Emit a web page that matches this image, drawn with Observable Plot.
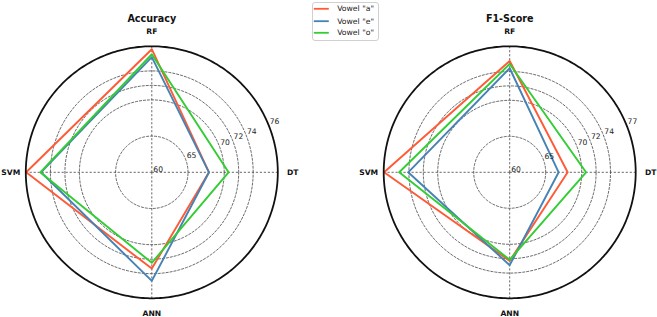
<!DOCTYPE html>
<html><head><meta charset="utf-8">
<script src="https://cdn.jsdelivr.net/npm/d3@7"></script>
<script src="https://cdn.jsdelivr.net/npm/@observablehq/plot@0.6"></script>
<style>
body{margin:0;background:#fff;}
#wrap{position:relative;width:657px;height:317px;overflow:hidden;font-family:"DejaVu Sans",sans-serif;}
#left,#right{position:absolute;top:0;}
#left{left:0px;} #right{left:330px;}
#legend{position:absolute;left:311.5px;top:1.5px;}
svg{overflow:visible;}
</style></head><body>
<div id="wrap"><div id="left"></div><div id="right"></div><div id="legend"></div></div>
<script>
// ---- data ----
const categories = ["DT", "RF", "SVM", "ANN"];
const angles = [0, 90, 180, 270];
const seriesNames = ['Vowel "a"', 'Vowel "e"', 'Vowel "o"'];
const seriesColors = ["#ff5a36", "#4682b4", "#32cd32"];

const accuracyA = [67.9, 77.0, 77.35, 73.3];
const accuracyE = [67.9, 75.9, 75.3, 75.0];
const accuracyO = [70.6, 76.3, 75.4, 72.5];

const f1A = [68.05, 75.45, 77.45, 72.3];
const f1E = [66.8, 74.45, 74.1, 72.9];
const f1O = [70.6, 75.05, 75.35, 72.15];

const radialTicks = [60, 65, 70, 72, 74];
const rMin = 60;
const accuracyMax = 77.4, accuracyMaxLabel = "76";
const f1Max = 77.5, f1MaxLabel = "77";

// ---- layout ----
const H = 317, Rp = 126, cy = 171.8;
const rad = a => a * Math.PI / 180;

function radar({title, values, rMax, maxLabel, width, cx}) {
  const R = rMax - rMin;
  const k = Rp / R; // px per unit (only for label padding)
  const px = (r, a) => (r - rMin) * Math.cos(rad(a));
  const py = (r, a) => (r - rMin) * Math.sin(rad(a));
  const rows = [];
  values.forEach((vals, s) => vals.forEach((v, i) =>
    rows.push({series: seriesNames[s], cat: categories[i], angle: angles[i], value: v})));
  const gridPts = radialTicks.filter(t => t > rMin)
    .flatMap(t => d3.range(0, 360, 2).map(a => ({r: t, a})));
  const outerPts = d3.range(0, 360, 1).map(a => ({r: rMax, a}));
  const labR = rMax + 15 / k;
  const tickLabels = radialTicks.map(t => ({r: t, label: String(t)})).concat([{r: rMax, label: maxLabel}]);
  return Plot.plot({
    width, height: H,
    marginLeft: cx - Rp, marginRight: width - cx - Rp,
    marginTop: cy - Rp, marginBottom: H - cy - Rp,
    x: {domain: [-R, R], axis: null},
    y: {domain: [-R, R], axis: null},
    color: {domain: seriesNames, range: seriesColors},
    style: {fontFamily: "DejaVu Sans", background: "transparent", overflow: "visible"},
    marks: [
      Plot.line(gridPts, {x: d => px(d.r, d.a), y: d => py(d.r, d.a), z: "r",
        curve: "linear-closed", stroke: "#444", strokeWidth: 0.8, strokeDasharray: "2.2,1.8"}),
      Plot.link(angles, {x1: 0, y1: 0, x2: a => px(rMax, a), y2: a => py(rMax, a),
        stroke: "#444", strokeWidth: 0.8, strokeDasharray: "2.2,1.8"}),
      Plot.line(rows, {x: d => px(d.value, d.angle), y: d => py(d.value, d.angle),
        z: "series", stroke: "series", curve: "linear-closed", strokeWidth: 1.9}),
      Plot.line(outerPts, {x: d => px(d.r, d.a), y: d => py(d.r, d.a),
        curve: "linear-closed", stroke: "#111", strokeWidth: 1.8}),
      Plot.text(tickLabels, {x: d => px(d.r, 22.5), y: d => py(d.r, 22.5), text: "label",
        textAnchor: "start", lineAnchor: "bottom", dx: 1.5, fontSize: 7.6, fill: "#222"}),
      Plot.text(categories, {x: (d, i) => px(labR, angles[i]), y: (d, i) => py(labR, angles[i]),
        text: d => d, fontWeight: "bold", fontSize: 7.6, fill: "#111"}),
      Plot.text([title], {x: 0, y: R, dy: -27.8, text: d => d,
        fontWeight: "bold", fontSize: 9.6, fill: "#111"})
    ]
  });
}

document.getElementById("left").append(radar({
  title: "Accuracy", values: [accuracyA, accuracyE, accuracyO],
  rMax: accuracyMax, maxLabel: accuracyMaxLabel, width: 330, cx: 151.3
}));
document.getElementById("right").append(radar({
  title: "F1-Score", values: [f1A, f1E, f1O],
  rMax: f1Max, maxLabel: f1MaxLabel, width: 327, cx: 179.2
}));

// ---- legend ----
const lg = d3.select("#legend").append("svg").attr("width", 68).attr("height", 40);
lg.append("rect").attr("x", 0.5).attr("y", 0.5).attr("width", 66).attr("height", 38)
  .attr("rx", 2.5).attr("fill", "white").attr("fill-opacity", 0.85).attr("stroke", "#d0d0d0");
const rowsY = [6.8, 19.2, 30.8];
seriesNames.forEach((name, i) => {
  lg.append("line").attr("x1", 1.8).attr("x2", 16.8).attr("y1", rowsY[i]).attr("y2", rowsY[i])
    .attr("stroke", seriesColors[i]).attr("stroke-width", 1.8);
  lg.append("text").attr("x", 25.2).attr("y", rowsY[i]).attr("dy", "0.35em")
    .attr("font-family", "DejaVu Sans").attr("font-size", 7.7).attr("fill", "#222").text(name);
});
</script>
</body></html>
